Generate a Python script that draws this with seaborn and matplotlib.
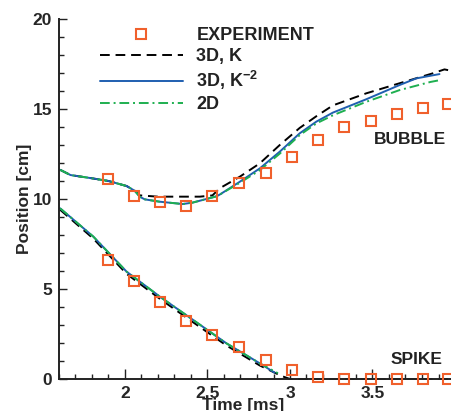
import matplotlib
matplotlib.use("Agg")
import matplotlib.pyplot as plt
import seaborn as sns
from matplotlib.ticker import MultipleLocator

sns.set_style("ticks")
plt.rcParams['font.family'] = ['Liberation Sans', 'DejaVu Sans']
plt.rcParams['font.weight'] = 'bold'
plt.rcParams['mathtext.fontset'] = 'custom'
plt.rcParams['mathtext.rm'] = 'Liberation Sans:bold'
plt.rcParams['mathtext.bf'] = 'Liberation Sans:bold'
plt.rcParams['mathtext.default'] = 'bf'

# experiment (open squares)
exp_t = [1.895, 2.054, 2.212, 2.369, 2.529, 2.690, 2.853, 3.010, 3.169, 3.329, 3.488, 3.647, 3.807, 3.956]
exp_bubble = [11.09, 10.17, 9.82, 9.59, 10.19, 10.89, 11.43, 12.33, 13.26, 13.98, 14.35, 14.71, 15.06, 15.26]
exp_spike = [6.59, 5.43, 4.26, 3.24, 2.43, 1.79, 1.06, 0.50, 0.13, 0.0, 0.0, 0.0, 0.0, 0.0]

# 3D, K  (black dashed)
k_bub_t = [1.607, 1.67, 1.80, 1.90, 2.01, 2.06, 2.09, 2.20, 2.35, 2.454, 2.53, 2.575, 2.696, 2.817,
           2.938, 3.059, 3.16, 3.26, 3.462, 3.664, 3.865, 3.936, 3.99]
k_bub = [11.62, 11.33, 11.15, 11.0, 10.72, 10.45, 10.2, 10.13, 10.13, 10.13, 10.2, 10.6, 11.24, 11.98,
         13.0, 13.95, 14.6, 15.2, 15.87, 16.43, 16.98, 17.2, 17.1]
k_spk_t = [1.607, 1.808, 2.01, 2.212, 2.413, 2.615, 2.817, 2.948, 3.0, 4.0]
k_spk = [9.40, 7.80, 5.84, 4.45, 3.15, 1.86, 0.75, 0.17, 0.0, 0.0]

# 3D, K^-2  (blue solid)
k2_bub_t = [1.607, 1.67, 1.80, 1.90, 2.01, 2.06, 2.09, 2.12, 2.21, 2.35, 2.41, 2.51, 2.555, 2.575, 2.696,
            2.817, 2.938, 3.059, 3.16, 3.26, 3.462, 3.664, 3.765, 3.906]
k2_bub = [11.62, 11.33, 11.15, 11.0, 10.72, 10.45, 10.12, 9.98, 9.85, 9.72, 9.8, 10.04, 10.15, 10.25, 10.96,
          11.7, 12.63, 13.65, 14.3, 14.8, 15.54, 16.33, 16.7, 16.94]
k2_spk_t = [1.607, 1.808, 2.01, 2.212, 2.413, 2.615, 2.817, 2.907]
k2_spk = [9.48, 7.91, 5.96, 4.57, 3.28, 1.98, 0.87, 0.35]

# 2D  (green dash-dot)
d2_bub_t = [1.607, 1.67, 1.80, 1.90, 2.01, 2.06, 2.09, 2.12, 2.21, 2.35, 2.41, 2.51, 2.555, 2.575, 2.696,
            2.817, 2.938, 3.059, 3.16, 3.26, 3.462, 3.664, 3.85, 3.906]
d2_bub = [11.62, 11.33, 11.15, 11.0, 10.72, 10.45, 10.12, 9.98, 9.85, 9.72, 9.8, 10.04, 10.15, 10.25, 10.9,
          11.6, 12.52, 13.55, 14.2, 14.65, 15.4, 16.05, 16.5, 16.6]
d2_spk_t = [1.607, 1.808, 2.01, 2.212, 2.413, 2.615, 2.817, 2.927]
d2_spk = [9.48, 7.91, 5.96, 4.57, 3.28, 1.98, 0.87, 0.32]

orange = '#f0602c'
blue = '#1f5fb0'
green = '#1eaf50'

W, H = 451, 411
fig = plt.figure(figsize=(W / 100, H / 100), dpi=100)
ax = fig.add_axes([59 / W, 32 / H, 396 / W, 360 / H])

lw = 1.4
sns.lineplot(x=k_bub_t, y=k_bub, ax=ax, color='black', lw=lw, linestyle=(0, (5, 3)),
             sort=False, estimator=None, label='3D, K')
sns.lineplot(x=k_spk_t, y=k_spk, ax=ax, color='black', lw=lw, linestyle=(0, (5, 3)),
             sort=False, estimator=None, clip_on=False)
sns.lineplot(x=k2_bub_t, y=k2_bub, ax=ax, color=blue, lw=lw, sort=False, estimator=None,
             label='3D, K$^{-2}$')
sns.lineplot(x=k2_spk_t, y=k2_spk, ax=ax, color=blue, lw=lw, sort=False, estimator=None)
sns.lineplot(x=d2_bub_t, y=d2_bub, ax=ax, color=green, lw=lw, linestyle=(0, (5, 2, 1, 2)),
             sort=False, estimator=None, label='2D')
sns.lineplot(x=d2_spk_t, y=d2_spk, ax=ax, color=green, lw=lw, linestyle=(0, (5, 2, 1, 2)),
             sort=False, estimator=None)

ax.plot(exp_t, exp_bubble, ls='none', marker='s', ms=7, mfc='none', mec=orange, mew=1.5,
        clip_on=False, label='EXPERIMENT')
ax.plot(exp_t, exp_spike, ls='none', marker='s', ms=7, mfc='none', mec=orange, mew=1.5,
        clip_on=False, zorder=5)

ax.set_xlim(1.6, 4.0)
ax.set_ylim(0, 20)
ax.xaxis.set_minor_locator(MultipleLocator(0.1))
ax.yaxis.set_major_locator(MultipleLocator(5))
ax.yaxis.set_minor_locator(MultipleLocator(1))
ax.set_xticks([2, 2.5, 3, 3.5])
ax.set_xticklabels(['2', '2.5', '3', '3.5'])
ax.tick_params(axis='both', which='both', direction='in', labelsize=12.5, width=1.0, color='#222222')
ax.tick_params(axis='y', which='major', length=6, pad=5)
ax.tick_params(axis='y', which='minor', length=3.5)
ax.tick_params(axis='x', which='major', length=7, pad=5)
ax.tick_params(axis='x', which='minor', length=3.5)
for lab in ax.get_xticklabels() + ax.get_yticklabels():
    lab.set_fontweight('bold')

sns.despine(ax=ax)
for s in ['left', 'bottom']:
    ax.spines[s].set_linewidth(1.4)
    ax.spines[s].set_color('#222222')

ax.set_xlabel('Time [ms]', fontsize=12.5, fontweight='bold')
ax.set_ylabel('Position [cm]', fontsize=12.5, fontweight='bold')
ax.xaxis.set_label_coords(0.465, -0.054)
ax.yaxis.set_label_coords(-0.068, 0.5)

ax.text(3.948, 13.28, 'BUBBLE', ha='right', va='center', fontsize=12.5, fontweight='bold', color='#222222')
ax.text(3.924, 1.09, 'SPIKE', ha='right', va='center', fontsize=12.5, fontweight='bold', color='#222222')

handles, labels = ax.get_legend_handles_labels()
order = [labels.index(l) for l in ['EXPERIMENT', '3D, K', '3D, K$^{-2}$', '2D']]
leg = ax.legend([handles[i] for i in order], [labels[i] for i in order],
                loc='upper left', bbox_to_anchor=(0.085, 0.997), frameon=False,
                fontsize=13, handlelength=4.6, handletextpad=0.75, labelspacing=0.22,
                borderaxespad=0)
for t in leg.get_texts():
    t.set_fontweight('bold')
    t.set_color('#222222')

fig.savefig('out.png', dpi=100)
